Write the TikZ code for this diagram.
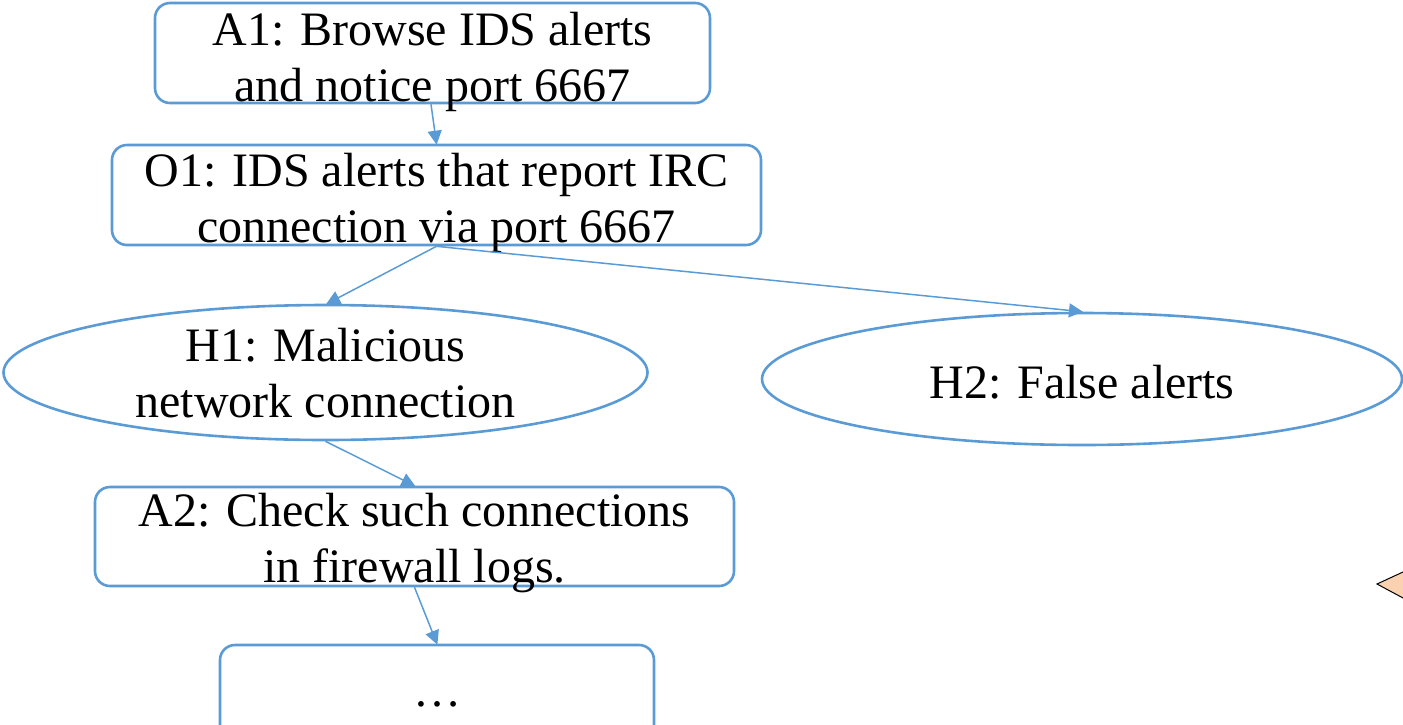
\documentclass[tikz,border=0pt]{standalone}
\usepackage{fontspec}
\setmainfont{Liberation Serif}
\usetikzlibrary{shapes.geometric,arrows.meta}
\definecolor{flowblue}{RGB}{91,155,213}
\definecolor{peach}{RGB}{250,210,178}
\tikzset{
  rbox/.style={draw=flowblue, line width=2.6pt, rounded corners=15pt, inner sep=0pt},
  oval/.style={draw=flowblue, line width=2.6pt, ellipse, inner sep=0pt},
  txt/.style={align=center, inner sep=0pt, font=\fontsize{48}{56}\selectfont},
  link/.style={draw=flowblue, line width=1.5pt, -{Triangle[length=14pt,width=14pt]}, shorten >=-1pt}
}
\begin{document}
\begin{tikzpicture}[x=1pt,y=-1pt]
\clip (0,0) rectangle (1403,724);

% action, observation and hypothesis shapes
\node[rbox, minimum width=555pt, minimum height=100pt] (a1) at (432.5,53) {};
\node[rbox, minimum width=649pt, minimum height=100pt] (o1) at (436.5,195) {};
\node[oval, minimum width=644pt, minimum height=135pt] (h1) at (325.5,372.5) {};
\node[oval, minimum width=640pt, minimum height=132pt] (h2) at (1082,379) {};
\node[rbox, minimum width=639pt, minimum height=99pt] (a2) at (414.5,536.5) {};
\node[rbox, minimum width=434pt, minimum height=100pt] (a3) at (437,695) {};

% labels
\node[txt] (a1t) at ([yshift=-9pt]a1.center) {A1: Browse IDS alerts\\and notice port 6667};
\node[txt] (o1t) at ([yshift=-8pt]o1.center) {O1: IDS alerts that report IRC\\connection via port 6667};
\node[txt] (h1t) at ([yshift=-1pt]h1.center) {H1: Malicious\\network connection};
\node[txt] (h2t) at ([yshift=-3pt]h2.center) {H2: False alerts};
\node[txt] (a2t) at ([yshift=-7pt]a2.center) {A2: Check such connections\\in firewall logs.};
\node[txt, anchor=base] (a3t) at (437,706) {…};

% connectors
\draw[link] ([xshift=-1.5pt]a1.south) -- (o1.north);
\draw[link] (o1.south) -- ([xshift=1.5pt]h1.north);
\draw[link] (o1.south) -- (h2.north);
\draw[link] (h1.south) -- (a2.north);
\draw[link] (a2.south) -- (a3.north);

% partly visible shape at the right edge
\draw[fill=peach, draw=black, line width=1pt]
  (1377,584) -- (1430,559.5) -- (1430,612.5) -- cycle;
\end{tikzpicture}
\end{document}
